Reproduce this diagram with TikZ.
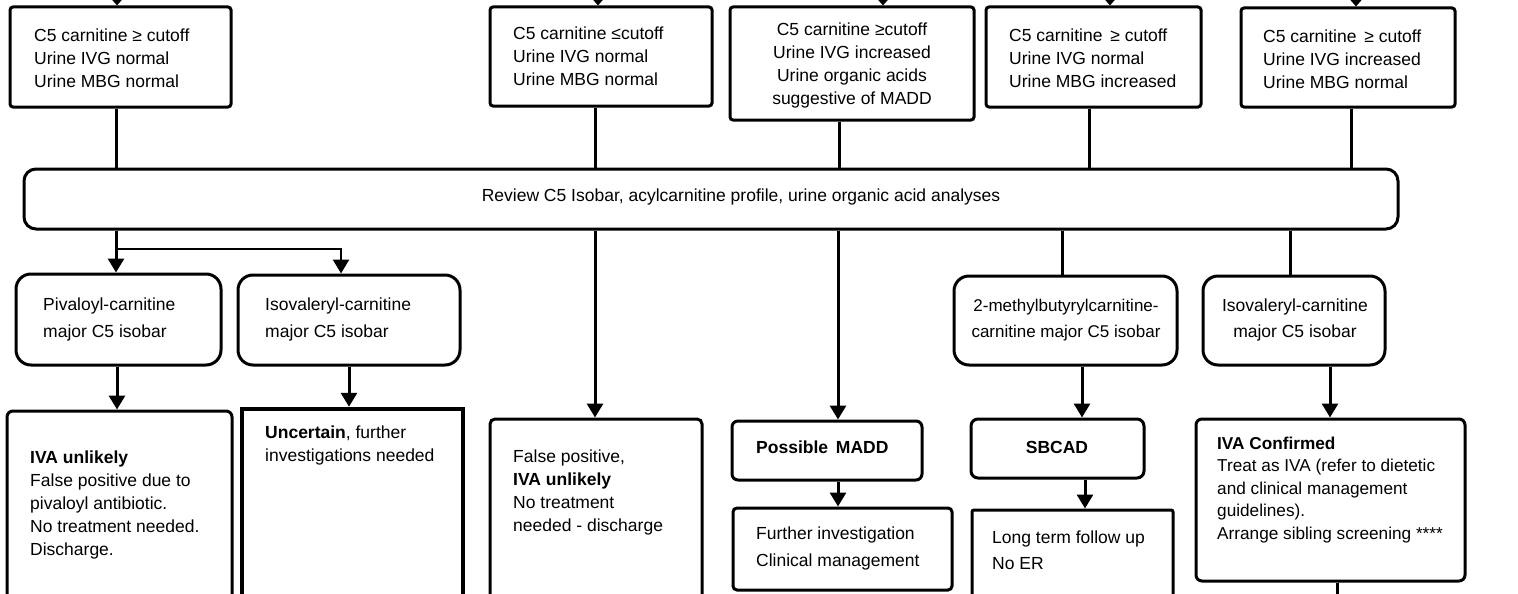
\documentclass[tikz,border=0pt]{standalone}
\usepackage{fontspec}
\setmainfont{Liberation Sans}
\usetikzlibrary{arrows.meta}
\begin{document}
\begin{tikzpicture}[x=1pt,y=-1pt,
  box/.style={draw, line width=3pt, rounded corners=#1, inner sep=0pt},
  box/.default=3pt,
  txt/.style={inner sep=0pt, font=\fontsize{17.5pt}{23pt}\selectfont, align=left, anchor=west},
  ctxt/.style={inner sep=0pt, font=\fontsize{17.5pt}{23pt}\selectfont, align=center},
  conn/.style={line width=3pt},
  arr/.style={line width=3pt, -{Triangle[width=16pt,length=14pt]}},
  toparr/.style={line width=3pt, -{Triangle[width=15pt,length=9pt]}}]
\useasboundingbox (0,0) rectangle (1518,594);
\clip (0,0) rectangle (1518,594);
% ---- top boxes
\node[box=3pt, minimum width=221pt, minimum height=100pt] (A) at (120.5,57) {};
\node[box=3pt, minimum width=222pt, minimum height=99pt] (B) at (601,56.5) {};
\node[box=3pt, minimum width=244pt, minimum height=113pt] (C) at (852,63.5) {};
\node[box=3pt, minimum width=215pt, minimum height=100pt] (D) at (1093.5,57) {};
\node[box=3pt, minimum width=214pt, minimum height=99pt] (E) at (1348,57.5) {};
\node[txt] (At) at (34,58) {C5 carnitine ≥ cutoff\\Urine IVG normal\\Urine MBG normal};
\node[txt] (Bt) at (513,56) {C5 carnitine ≤cutoff\\Urine IVG normal\\Urine MBG normal};
\node[ctxt] (Ct) at (852,65.5) {C5 carnitine ≥cutoff\\Urine IVG increased\\Urine organic acids\\suggestive of MADD};
\node[txt] (Dt) at (1009,58) {C5 carnitine \,≥ cutoff\\Urine IVG normal\\Urine MBG increased};
\node[txt] (Et) at (1263,59) {C5 carnitine \,≥ cutoff\\Urine IVG increased\\Urine MBG normal};
% ---- bar
\node[box=12pt, minimum width=1374pt, minimum height=60pt] (Bar) at (711,199) {};
\node[ctxt] (Bart) at (741,197) {Review C5 Isobar, acylcarnitine profile, urine organic acid analyses};
% ---- isobar boxes
\node[box=15pt, minimum width=205pt, minimum height=91pt] (P) at (118.5,319.5) {};
\node[box=15pt, minimum width=222pt, minimum height=90pt] (Q) at (349,320) {};
\node[box=15pt, minimum width=223pt, minimum height=89pt] (R) at (1065.5,320.5) {};
\node[box=15pt, minimum width=182pt, minimum height=89pt] (S) at (1294,320.5) {};
\node[txt, font=\fontsize{17.5pt}{27pt}\selectfont] (Pt) at (43,319.5) {Pivaloyl-carnitine\\major C5 isobar};
\node[txt, font=\fontsize{17.5pt}{27pt}\selectfont] (Qt) at (265,319.5) {Isovaleryl-carnitine\\major C5 isobar};
\node[ctxt, font=\fontsize{17pt}{26pt}\selectfont] (Rt) at (1066,320) {2-methylbutyrylcarnitine-\\carnitine major C5 isobar};
\node[ctxt, font=\fontsize{17.5pt}{26pt}\selectfont] (St) at (1295,320) {Isovaleryl-carnitine\\major C5 isobar};
% ---- outcome boxes
\node[box=6pt, minimum width=225pt, minimum height=209pt] (U1) at (119.5,515.5) {};
\node[draw, line width=4.5pt, inner sep=0pt, minimum width=221pt, minimum height=211pt] (U2) at (352.5,514.5) {};
\node[box=5pt, minimum width=212pt, minimum height=201pt] (FP) at (596,519.5) {};
\node[box=6pt, minimum width=190pt, minimum height=59pt] (M) at (827,450.5) {};
\node[box=4pt, minimum width=219pt, minimum height=82pt] (FI) at (842.5,549) {};
\node[box=7pt, minimum width=173pt, minimum height=59pt] (SB) at (1057.5,448.5) {};
\node[box=2pt, minimum width=201pt, minimum height=110pt] (LT) at (1072.5,565) {};
\node[box=6pt, minimum width=269pt, minimum height=162pt] (IC) at (1330.5,500) {};
\node[txt] (U1t) at (30,505) {\textbf{IVA unlikely}\\False positive due to\\pivaloyl antibiotic.\\No treatment needed.\\Discharge.};
\node[txt] (U2t) at (265,445.5) {\textbf{Uncertain}, further\\investigations needed};
\node[txt] (FPt) at (513,492) {False positive,\\\textbf{IVA unlikely}\\No treatment\\needed - discharge};
\node[txt] (Mt) at (756,447) {\textbf{Possible \,MADD}};
\node[txt, font=\fontsize{17.5pt}{27pt}\selectfont] (FIt) at (756,548.5) {Further investigation\\Clinical management};
\node[ctxt] (SBt) at (1057,447) {\textbf{SBCAD}};
\node[txt, font=\fontsize{17.5pt}{26pt}\selectfont] (LTt) at (992,550) {Long term follow up\\No ER};
\node[txt, font=\fontsize{17.2pt}{22.5pt}\selectfont] (ICt) at (1217,490) {\textbf{IVA Confirmed}\\Treat as IVA (refer to dietetic\\and clinical management\\guidelines).\\Arrange sibling screening ****};
% ---- column coordinates
\coordinate (ta) at (117,-30);
\coordinate (tb) at (598,-30);
\coordinate (tc) at (883,-30);
\coordinate (td) at (1110,-30);
\coordinate (te) at (1356,-30);
\coordinate (xa) at (116,0);
\coordinate (xb) at (595,0);
\coordinate (xc) at (839,0);
\coordinate (xd) at (1089,0);
\coordinate (xe) at (1351,0);
\coordinate (br) at (116,249);
\coordinate (xq) at (341,0);
\coordinate (xm) at (838,0);
\coordinate (xr) at (1062,0);
\coordinate (xs) at (1290,0);
\coordinate (xp) at (117,0);
\coordinate (xu) at (349,0);
\coordinate (xsb) at (1082,0);
\coordinate (xic) at (1330,0);
\coordinate (xlt) at (1085,0);
\coordinate (out) at (1337,620);
% ---- incoming arrows
\draw[toparr] (ta) -- (ta |- A.north);
\draw[toparr] (tb) -- (tb |- B.north);
\draw[toparr] (tc) -- (tc |- C.north);
\draw[toparr] (td) -- (td |- D.north);
\draw[toparr] (te) -- (te |- E.north);
% ---- into bar
\draw[conn] (A.south -| xa) -- (Bar.north -| xa);
\draw[conn] (B.south -| xb) -- (Bar.north -| xb);
\draw[conn] (C.south -| xc) -- (Bar.north -| xc);
\draw[conn] (D.south -| xd) -- (Bar.north -| xd);
\draw[conn] (E.south -| xe) -- (Bar.north -| xe);
% ---- out of bar
\draw[arr] (Bar.south -| xa) -- (P.north -| xa);
\draw[arr, line width=2.5pt] (br) -- (br -| xq) -- (Q.north -| xq);
\draw[arr] (Bar.south -| xb) -- (FP.north -| xb);
\draw[arr] (Bar.south -| xm) -- (M.north -| xm);
\draw[conn] (Bar.south -| xr) -- (R.north -| xr);
\draw[conn] (Bar.south -| xs) -- (S.north -| xs);
% ---- lower arrows
\draw[arr] (P.south -| xp) -- (U1.north -| xp);
\draw[arr] (Q.south -| xu) -- (U2.north -| xu);
\draw[arr] (R.south -| xsb) -- (SB.north -| xsb);
\draw[arr] (S.south -| xic) -- (IC.north -| xic);
\draw[arr] (M.south -| xm) -- (FI.north -| xm);
\draw[arr] (SB.south -| xlt) -- (LT.north -| xlt);
\draw[conn] (IC.south -| out) -- (out);
\end{tikzpicture}
\end{document}
